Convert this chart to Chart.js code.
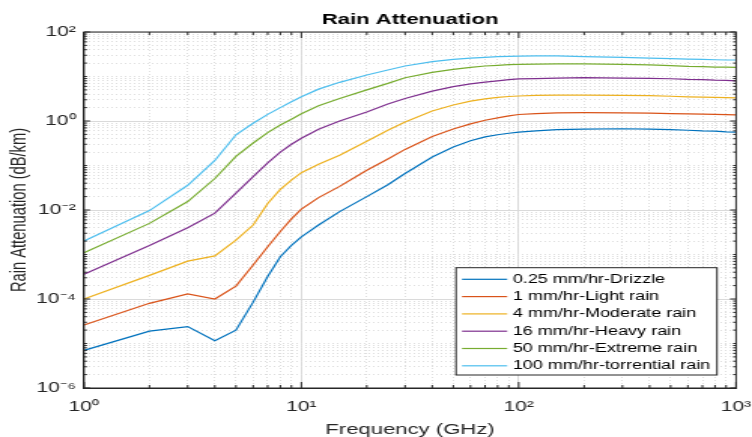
<!DOCTYPE html>
<html>
<head>
<meta charset="utf-8">
<title>Rain Attenuation</title>
<script src="https://cdn.jsdelivr.net/npm/chart.js@4/dist/chart.umd.min.js"></script>
<style>
  html, body { margin: 0; padding: 0; background: #fff; }
</style>
</head>
<body>
<!-- drawn at 500px wide and shown at 752px: the reference figure is stretched sideways -->
<canvas id="rainChart" width="500" height="437" style="display:block;width:752px;height:437px"></canvas>
<script>
const FREQ_GHZ = [1, 2, 3, 4, 5, 6, 7, 8, 9, 10, 12, 15, 20, 25, 30, 40, 50, 60, 70, 80, 90, 100,
  120, 150, 200, 300, 400, 500, 600, 700, 800, 900, 1000];

const DRIZZLE = [7.0e-6, 1.9e-5, 2.4e-5, 1.15e-5, 2.0e-5, 8.5e-5, 3.2e-4, 8.9e-4, 1.6e-3, 2.5e-3, 4.6e-3, 9.2e-3,
  0.020, 0.037, 0.066, 0.155, 0.26, 0.36, 0.44, 0.49, 0.53, 0.56, 0.60, 0.64, 0.66, 0.67, 0.66, 0.64, 0.62, 0.60, 0.59, 0.57, 0.56];
const LIGHT = [2.6e-5, 8.0e-5, 1.3e-4, 1.0e-4, 1.95e-4, 5.8e-4, 1.5e-3, 3.3e-3, 6.3e-3, 0.0105, 0.019, 0.034,
  0.078, 0.14, 0.23, 0.45, 0.66, 0.86, 1.04, 1.18, 1.30, 1.40, 1.47, 1.52, 1.54, 1.53, 1.50, 1.47, 1.45, 1.43, 1.41, 1.39, 1.37];
const MODERATE = [1.0e-4, 3.4e-4, 7.1e-4, 9.3e-4, 2.1e-3, 4.6e-3, 0.014, 0.029, 0.047, 0.069, 0.107, 0.17,
  0.35, 0.62, 0.95, 1.68, 2.29, 2.8, 3.15, 3.4, 3.55, 3.65, 3.75, 3.8, 3.8, 3.75, 3.7, 3.6, 3.5, 3.45, 3.4, 3.35, 3.3];
const HEAVY = [3.6e-4, 1.6e-3, 4.0e-3, 8.5e-3, 0.024, 0.056, 0.115, 0.20, 0.30, 0.41, 0.65, 1.0,
  1.6, 2.4, 3.2, 4.7, 5.9, 6.8, 7.5, 8.0, 8.5, 8.8, 9.0, 9.2, 9.4, 9.2, 9.1, 8.9, 8.6, 8.5, 8.3, 8.2, 8.0];
const EXTREME = [1.1e-3, 5.0e-3, 0.0155, 0.051, 0.16, 0.32, 0.55, 0.81, 1.1, 1.45, 2.2, 3.2,
  5.0, 7.0, 9.4, 12.4, 14.5, 16.1, 17.2, 17.8, 18.4, 18.8, 19.0, 19.3, 19.3, 18.8, 18.2, 17.5, 16.9, 16.6, 16.3, 16.2, 16.1];
const TORRENTIAL = [2.0e-3, 9.7e-3, 0.036, 0.13, 0.49, 0.89, 1.41, 2.0, 2.7, 3.5, 5.2, 7.4,
  10.8, 14, 17.2, 21.5, 24.3, 26, 27, 27.9, 28.4, 28.8, 29, 29, 28, 27, 26, 25.1, 24.6, 24.3, 23.8, 23.5, 23.5];

const SERIES_LABELS = ['0.25 mm/hr-Drizzle', '1 mm/hr-Light rain', '4 mm/hr-Moderate rain',
  '16 mm/hr-Heavy rain', '50 mm/hr-Extreme rain', '100 mm/hr-torrential rain'];
const SERIES_VALUES = [DRIZZLE, LIGHT, MODERATE, HEAVY, EXTREME, TORRENTIAL];

const X_TICK_VALUES = [1, 10, 100, 1000];
const X_TICK_LABELS = ['10⁰', '10¹', '10²', '10³'];
const Y_TICK_VALUES = [1e-6, 1e-4, 1e-2, 1, 100];
const Y_TICK_LABELS = ['10⁻⁶', '10⁻⁴', '10⁻²', '10⁰', '10²'];

const CHART_TITLE = 'Rain Attenuation';
const COLORS = ['#0072BD', '#D95319', '#EDB120', '#7E2F8E', '#77AC30', '#4DBEEE'];
const FONT = "'Liberation Sans', Arial, Helvetica, sans-serif";
const AXIS_COLOR = '#262626';
const SX = 752 / 500; // horizontal stretch of the displayed canvas

function decadeTicks(lo, hi) {
  const out = [];
  for (let e = lo; e < hi; e++) {
    for (let m = 1; m <= 9; m++) out.push(m * Math.pow(10, e));
  }
  out.push(Math.pow(10, hi));
  return out;
}

function findTick(list, v) {
  return list.findIndex((t) => Math.abs(Math.log10(t) - Math.log10(v)) < 1e-6);
}

function axisOptions(lo, hi, tickValues, tickLabels, extra) {
  const isMajor = (v) => findTick(tickValues, v) >= 0;
  return Object.assign({
    type: 'logarithmic',
    min: Math.pow(10, lo),
    max: Math.pow(10, hi),
    afterBuildTicks: (scale) => {
      scale.ticks = decadeTicks(lo, hi).map((value) => ({ value }));
    },
    ticks: {
      autoSkip: false,
      maxRotation: 0,
      color: AXIS_COLOR,
      font: { family: FONT, size: 14 },
      callback: (v) => {
        const i = findTick(tickValues, v);
        return i >= 0 ? tickLabels[i] : '';
      },
    },
    grid: {
      drawTicks: false,
      lineWidth: 1,
      color: (ctx) => (ctx.tick && isMajor(ctx.tick.value) ? '#dadada' : '#dedede'),
    },
    border: {
      color: AXIS_COLOR,
      dash: (ctx) => (ctx.tick && !isMajor(ctx.tick.value) ? [1, 2] : []),
    },
  }, extra);
}

// Title centred over the axes, box round them and MATLAB style inward tick marks
const boxPlugin = {
  id: 'box',
  afterDraw(chart) {
    const { ctx, chartArea: a, scales } = chart;
    ctx.save();
    ctx.strokeStyle = AXIS_COLOR;
    ctx.lineWidth = 1;
    ctx.beginPath();
    for (const t of scales.x.ticks) {
      const px = scales.x.getPixelForValue(t.value);
      const len = findTick(X_TICK_VALUES, t.value) >= 0 ? 6 : 3;
      ctx.moveTo(px, a.bottom); ctx.lineTo(px, a.bottom - len);
      ctx.moveTo(px, a.top); ctx.lineTo(px, a.top + len);
    }
    for (const t of scales.y.ticks) {
      const py = scales.y.getPixelForValue(t.value);
      const len = (findTick(Y_TICK_VALUES, t.value) >= 0 ? 6 : 3) / SX;
      ctx.moveTo(a.left, py); ctx.lineTo(a.left + len, py);
      ctx.moveTo(a.right, py); ctx.lineTo(a.right - len, py);
    }
    ctx.stroke();
    ctx.strokeRect(a.left, a.top, a.right - a.left, a.bottom - a.top);

    ctx.fillStyle = '#000';
    ctx.font = `bold 14.7px ${FONT}`;
    ctx.textAlign = 'center';
    ctx.textBaseline = 'alphabetic';
    ctx.fillText(CHART_TITLE, (a.left + a.right) / 2, 24);
    ctx.restore();
  },
};

// Legend box inside the lower right corner of the axes
const legendPlugin = {
  id: 'insideLegend',
  afterDraw(chart) {
    const { ctx, chartArea: a } = chart;
    const w = 173.5, h = 107.3;
    const x0 = a.right - 12.7 - w;
    const y0 = a.bottom - 13 - h;
    ctx.save();
    ctx.fillStyle = '#fff';
    ctx.fillRect(x0, y0, w, h);
    ctx.strokeStyle = AXIS_COLOR;
    ctx.lineWidth = 1;
    ctx.strokeRect(x0, y0, w, h);
    ctx.font = `12px ${FONT}`;
    ctx.textBaseline = 'middle';
    chart.data.datasets.forEach((ds, i) => {
      const y = y0 + 11.6 + i * 17.3;
      ctx.strokeStyle = ds.borderColor;
      ctx.lineWidth = 1.2;
      ctx.beginPath();
      ctx.moveTo(x0 + 4, y);
      ctx.lineTo(x0 + 34, y);
      ctx.stroke();
      ctx.fillStyle = '#000';
      ctx.fillText(ds.label, x0 + 37.7, y);
    });
    ctx.restore();
  },
};

const datasets = SERIES_LABELS.map((label, i) => ({
  label,
  data: FREQ_GHZ.map((f, j) => ({ x: f, y: SERIES_VALUES[i][j] })),
  borderColor: COLORS[i],
  backgroundColor: COLORS[i],
  borderWidth: 1.2,
  pointRadius: 0,
  tension: 0,
}));

new Chart(document.getElementById('rainChart'), {
  type: 'line',
  data: { datasets },
  options: {
    responsive: false,
    devicePixelRatio: 1,
    animation: false,
    events: [],
    layout: { padding: { left: 0, right: 0, top: 32, bottom: 0 } },
    plugins: {
      legend: { display: false },
      tooltip: { enabled: false },
      title: { display: false },
    },
    scales: {
      x: axisOptions(0, 3, X_TICK_VALUES, X_TICK_LABELS, {
        afterFit: (scale) => {
          scale.height = 49;
          scale.paddingLeft = 0;
          scale.paddingRight = 10.6;
        },
        title: {
          display: true,
          text: 'Frequency (GHz)',
          color: AXIS_COLOR,
          font: { family: FONT, size: 14.7, lineHeight: 1 },
          padding: { top: 0, bottom: 0 },
        },
      }),
      y: axisOptions(-6, 2, Y_TICK_VALUES, Y_TICK_LABELS, {
        afterFit: (scale) => { scale.width = 55.85; },
        title: {
          display: true,
          text: 'Rain Attenuation (dB/km)',
          color: AXIS_COLOR,
          font: { family: FONT, size: 14.7, lineHeight: 1.2 },
          padding: { top: 3.8, bottom: 0 },
        },
      }),
    },
  },
  plugins: [boxPlugin, legendPlugin],
});

// tick label padding differs per axis
const chart = Chart.getChart('rainChart');
chart.options.scales.x.ticks.padding = 11;
chart.options.scales.y.ticks.padding = 8 / SX;
chart.update('none');
</script>
</body>
</html>
